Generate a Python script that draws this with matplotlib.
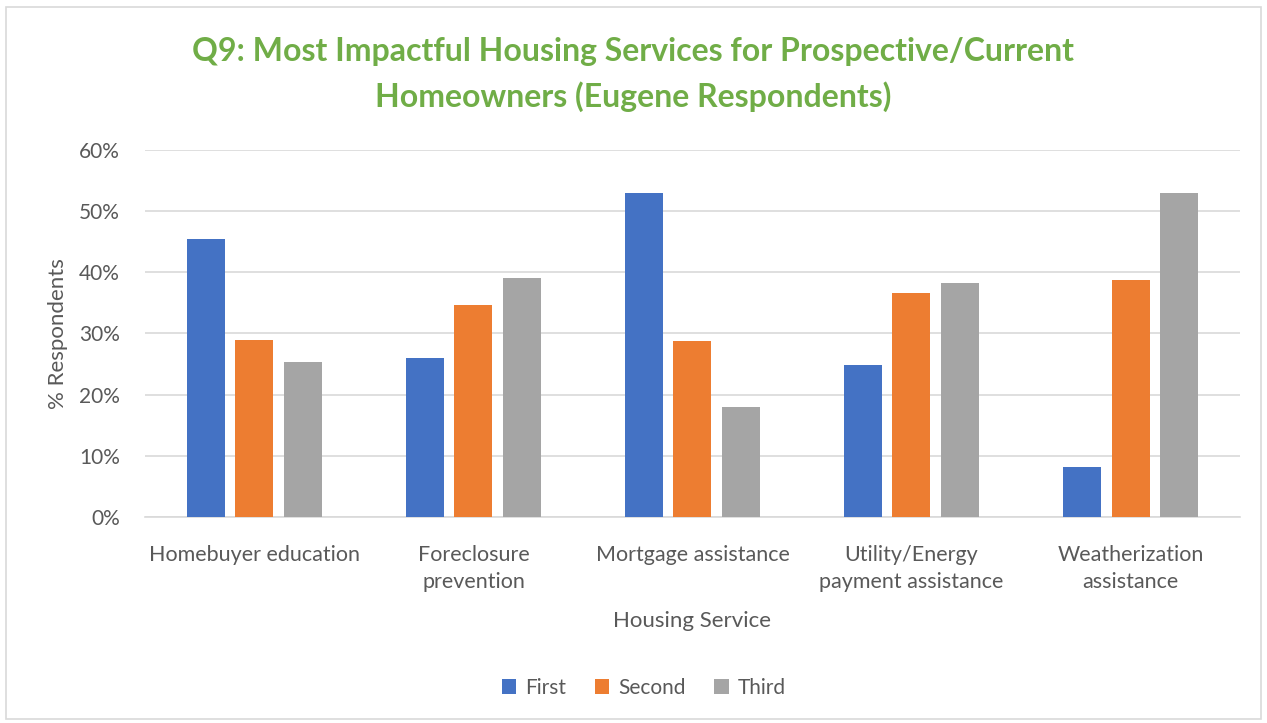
import matplotlib.pyplot as plt
import numpy as np
from matplotlib.patches import Rectangle
from matplotlib.ticker import PercentFormatter

categories = ["Homebuyer education", "Foreclosure\nprevention", "Mortgage assistance",
              "Utility/Energy\npayment assistance", "Weatherization\nassistance"]
first = [45.4, 26.0, 53.0, 24.9, 8.1]
second = [29.0, 34.7, 28.8, 36.6, 38.7]
third = [25.3, 39.1, 18.0, 38.2, 53.0]
series_names = ["First", "Second", "Third"]
colors = ["#4472C4", "#ED7D31", "#A5A5A5"]

plt.rcParams['font.family'] = ['Lato', 'DejaVu Sans']
text_color = "#595959"

fig = plt.figure(figsize=(12.67, 7.23), dpi=100)
ax = fig.add_axes([0.1144, 0.285, 0.8643, 0.5075])

x = np.arange(len(categories))
width = 0.1735
offset = 0.2215
for i, (vals, name, c) in enumerate(zip([first, second, third], series_names, colors)):
    ax.bar(x + (i - 1) * offset, vals, width, color=c, label=name, zorder=3)

ax.set_xlim(-0.5, len(categories) - 0.5)
ax.set_ylim(0, 60)
ax.set_yticks(np.arange(0, 61, 10))
ax.yaxis.set_major_formatter(PercentFormatter(decimals=0))
ax.grid(axis='y', color="#D9D9D9", linewidth=1.2, zorder=0)
for s in ['top', 'right', 'left']:
    ax.spines[s].set_visible(False)
ax.spines['bottom'].set_color("#D9D9D9")
ax.spines['bottom'].set_linewidth(1.2)
ax.tick_params(axis='y', length=0, labelsize=15, colors=text_color, pad=18)
ax.tick_params(axis='x', length=0, labelsize=15.5, colors=text_color, pad=20)
ax.set_xticks(x)
ax.set_xticklabels(categories, linespacing=1.45)

ax.set_ylabel("% Respondents", fontsize=16, color=text_color, labelpad=8)
ax.set_xlabel("Housing Service", fontsize=16, color=text_color, labelpad=14)

fig.text(0.5, 0.897, "Q9: Most Impactful Housing Services for Prospective/Current\nHomeowners (Eugene Respondents)",
         ha='center', va='center', fontsize=23, fontweight='bold', color="#70AD47", linespacing=1.6)

leg = fig.legend(loc='center', bbox_to_anchor=(0.508, 0.049), ncol=3, frameon=False,
                 fontsize=15, handlelength=0.7, handleheight=0.7, columnspacing=1.4, handletextpad=0.4)
for t in leg.get_texts():
    t.set_color(text_color)

fig.patches.append(Rectangle((0.005, 0.005), 0.99, 0.985, transform=fig.transFigure,
                             fill=False, edgecolor="#D9D9D9", linewidth=1.2))

fig.savefig("out.png", dpi=100)
